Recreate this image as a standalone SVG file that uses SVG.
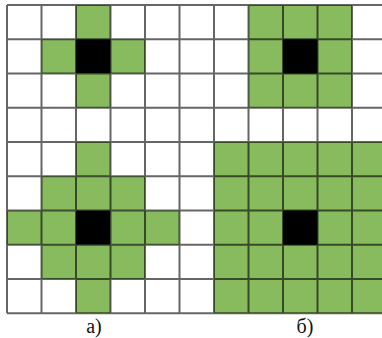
<svg xmlns="http://www.w3.org/2000/svg" width="382" height="338" viewBox="0 0 382 338">
  <style>
    .g { fill: #87bb5e; }
    .k { fill: #000000; }
    .grid { fill: none; stroke: #000; stroke-opacity: 0.6; stroke-width: 2; }
    .lbl { font-size: 20px; fill: #111; text-anchor: middle; }
  </style>
  <rect x="0" y="0" width="382" height="338" fill="#ffffff"/>
  <g id="panel-a">
    <rect class="g" x="76" y="5" width="34.5" height="34.25"/>
    <rect class="g" x="41.5" y="39.25" width="34.5" height="34.25"/>
    <rect class="g" x="110.5" y="39.25" width="34.5" height="34.25"/>
    <rect class="k" x="76" y="39.25" width="34.5" height="34.25"/>
    <rect class="g" x="76" y="73.5" width="34.5" height="34.25"/>
    <rect class="g" x="76" y="142" width="34.5" height="34.25"/>
    <rect class="g" x="41.5" y="176.25" width="103.5" height="34.25"/>
    <rect class="g" x="7" y="210.5" width="69" height="34.25"/>
    <rect class="k" x="76" y="210.5" width="34.5" height="34.25"/>
    <rect class="g" x="110.5" y="210.5" width="69" height="34.25"/>
    <rect class="g" x="41.5" y="244.75" width="103.5" height="34.25"/>
    <rect class="g" x="76" y="279" width="34.5" height="34.25"/>
  </g>
  <g id="panel-b">
    <rect class="g" x="248.5" y="5" width="103.5" height="102.75"/>
    <rect class="k" x="283" y="39.25" width="34.5" height="34.25"/>
    <rect class="g" x="214" y="142" width="172.5" height="171.25"/>
    <rect class="k" x="283" y="210.5" width="34.5" height="34.25"/>
  </g>
  <g id="grid">
    <path class="grid" d="M7 5V313.25 M41.5 5V313.25 M76 5V313.25 M110.5 5V313.25 M145 5V313.25 M179.5 5V313.25 M214 5V313.25 M248.5 5V313.25 M283 5V313.25 M317.5 5V313.25 M352 5V313.25 M386.5 5V313.25
      M7 5H386.5 M7 39.25H386.5 M7 73.5H386.5 M7 107.75H386.5 M7 142H386.5 M7 176.25H386.5 M7 210.5H386.5 M7 244.75H386.5 M7 279H386.5 M7 313.25H386.5"/>
  </g>
  <g id="labels">
    <text class="lbl" x="94" y="333" font-family="'Liberation Serif', 'DejaVu Serif', serif">а)</text>
    <text class="lbl" x="305" y="333" font-family="'Liberation Serif', 'DejaVu Serif', serif">б)</text>
  </g>
</svg>
